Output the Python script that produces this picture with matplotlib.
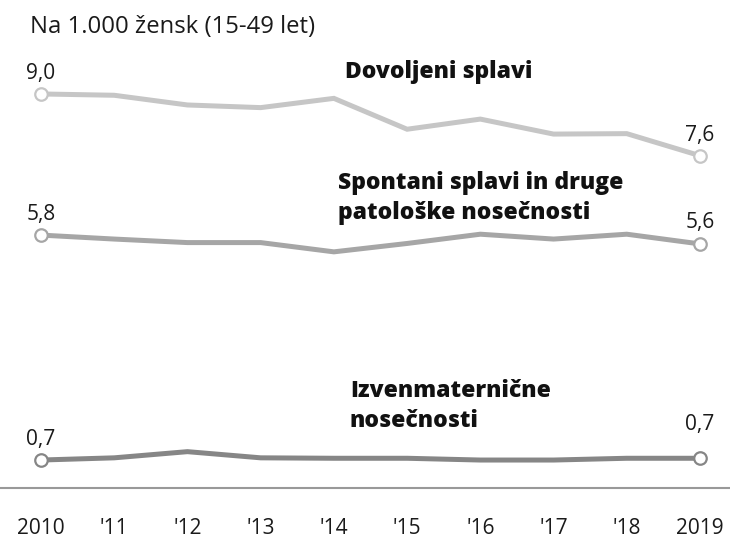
import matplotlib
matplotlib.use("Agg")
import matplotlib.pyplot as plt

plt.rcParams['font.family'] = ['Open Sans', 'DejaVu Sans']

# podatki
years = [2010, 2011, 2012, 2013, 2014, 2015, 2016, 2017, 2018, 2019]
tick_labels = ["2010", "'11", "'12", "'13", "'14", "'15", "'16", "'17", "'18", "2019"]
dovoljeni = [9.0, 8.97, 8.75, 8.69, 8.9, 8.2, 8.43, 8.09, 8.1, 7.6]
spontani = [5.8, 5.71, 5.63, 5.63, 5.42, 5.61, 5.82, 5.71, 5.82, 5.6]
izven = [0.7, 0.75, 0.89, 0.75, 0.74, 0.74, 0.7, 0.7, 0.74, 0.74]

# (vrednosti, barva, oznaka začetek, oznaka konec, ime, zamik desne oznake)
series = [
    (dovoljeni, "#c6c6c6", "9,0", "7,6", "Dovoljeni splavi", 7),
    (spontani, "#a6a6a6", "5,8", "5,6", "Spontani splavi in druge\npatološke nosečnosti", 8),
    (izven, "#868686", "0,7", "0,7", "Izvenmaternične\nnosečnosti", 17),
]

fig = plt.figure(figsize=(7.3, 5.4), dpi=100)
ax = fig.add_axes([0, 0, 1, 1])
ax.set_xlim(2009.44, 2019.41)
ax.set_ylim(-1.113, 11.13)
ax.axis('off')

for vals, col, lab0, lab1, name, off in series:
    ax.plot(years, vals, color=col, lw=3.6, solid_joinstyle='miter', zorder=2)
    ax.plot([years[0], years[-1]], [vals[0], vals[-1]], 'o', ms=9,
            mfc='white', mec=col, mew=1.6, zorder=3)
    ax.annotate(lab0, (years[0], vals[0]), xytext=(0, 7), textcoords='offset points',
                ha='center', va='bottom', fontsize=15, color='#1a1a1a')
    ax.annotate(lab1, (years[-1], vals[-1]), xytext=(0, off), textcoords='offset points',
                ha='center', va='bottom', fontsize=15, color='#1a1a1a')

# oznake serij
ax.text(2014.15, 9.5, series[0][4], fontsize=16.5, fontweight='heavy', ha='left',
        va='center', color='#111111')
ax.text(2014.06, 6.64, series[1][4], fontsize=16.5, fontweight='heavy', ha='left',
        va='center', color='#111111', linespacing=1.3)
ax.text(2014.22, 1.92, series[2][4], fontsize=16.5, fontweight='heavy', ha='left',
        va='center', color='#111111', linespacing=1.35)

# osnovna črta
ax.axhline(0.065, color='#999999', lw=1.5, zorder=1)

for x, t in zip(years, tick_labels):
    ax.text(x, -0.85, t, ha='center', va='center', fontsize=15, color='#1a1a1a')

fig.text(30 / 730, 1 - 27 / 540, "Na 1.000 žensk (15-49 let)", fontsize=17.2,
         ha='left', va='center', color='#1a1a1a')

fig.savefig("out.png", dpi=100)
